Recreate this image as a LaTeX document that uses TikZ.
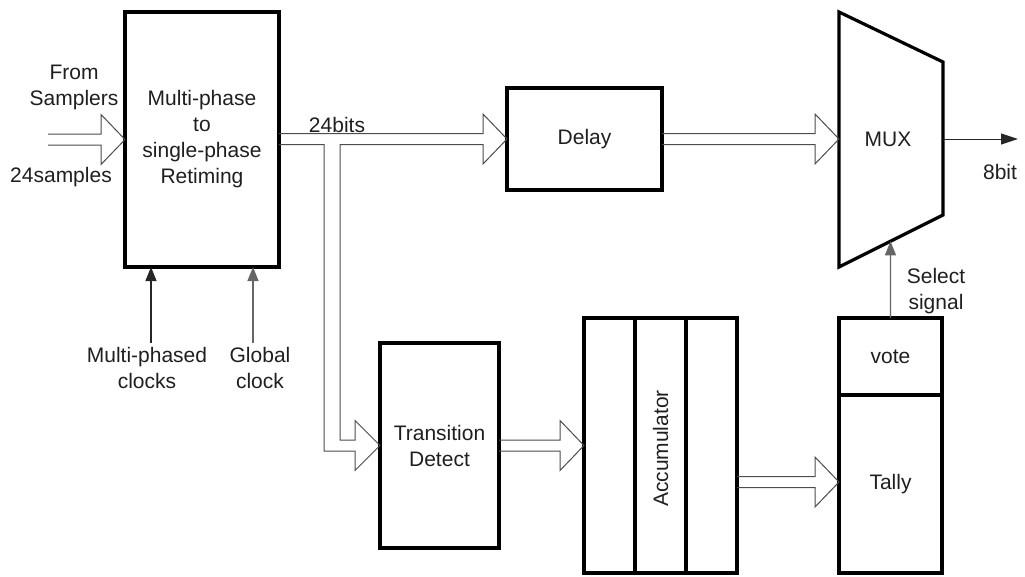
\documentclass[tikz,border=0pt]{standalone}
\usepackage{fontspec}
\setmainfont{Liberation Sans}
\usetikzlibrary{arrows.meta,calc}

\tikzset{
  box/.style={draw=black, line width=3.2pt, fill=none, inner sep=0pt, outer sep=0pt,
              align=center, text=black!88},
  lbl/.style={inner sep=0pt, align=center, text=black!88},
  bus/.style={draw=black!70, line width=1pt, line join=miter},
  sig/.style={draw=black!85, line width=1.3pt, -{Triangle[length=14pt,width=11pt]}},
  sel/.style={draw=black!60, line width=1.2pt, -{Triangle[length=14pt,width=11pt]}},
}

% hollow bus arrow from a start point to a tip point (lines follow the tip's height)
\newcommand\busarrow[2]{%
  \draw[bus] let \p1=#1, \p2=#2 in
    (\x1,{\y2+5.5pt}) -- ({\x2-24pt},{\y2+5.5pt}) -- ({\x2-24pt},{\y2+25pt})
    -- (\p2) -- ({\x2-24pt},{\y2-25pt}) -- ({\x2-24pt},{\y2-5.5pt}) -- (\x1,{\y2-5.5pt});}

\begin{document}
\begin{tikzpicture}[x=1pt, y=-1pt, font=\fontsize{21}{26}\selectfont]
\useasboundingbox (0,0) rectangle (1025,576);

% ---- blocks ----
\node[box, minimum width=154pt, minimum height=255pt] (retime) at (202,139.5)
  {Multi-phase\\to\\single-phase\\Retiming};
\node[box, minimum width=155pt, minimum height=102pt] (delay) at (584.5,139) {Delay};
\node[box, minimum width=119pt, minimum height=205pt] (td) at (439.5,445.5)
  {Transition\\Detect};
\node[box, minimum width=153pt, minimum height=255pt] (acc) at (660.5,445.5) {};
\node[box, minimum width=103pt, minimum height=77pt] (vote) at (890.5,356.5) {vote};
\node[box, minimum width=103pt, minimum height=178pt] (tally) at (890.5,484) {Tally};

% accumulator columns
\draw[line width=3.2pt] ($(acc.north west)!1/3!(acc.north east)$) -- ($(acc.south west)!1/3!(acc.south east)$);
\draw[line width=3.2pt] ($(acc.north west)!2/3!(acc.north east)$) -- ($(acc.south west)!2/3!(acc.south east)$);
\node[lbl, rotate=90] (acclbl) at ($(acc.center)+(0,3)$) {Accumulator};

% multiplexer
\coordinate (mtl) at (839,12);
\coordinate (mtr) at (943,62);
\coordinate (mbr) at (943,215);
\coordinate (mbl) at (839,267);
\draw[line width=3.2pt, line join=miter] (mtl) -- (mtr) -- (mbr) -- (mbl) -- cycle;
\node[lbl] (mux) at (888,139) {MUX};
\coordinate (muxin) at (839,139);
\coordinate (muxout) at (943,139);
\coordinate (muxsel) at ($(mbl)!0.495!(mbr)$);

% ---- buses ----
\coordinate (in) at (48,139);
\busarrow{(in)}{(retime.west)}
\node[lbl] (from) at (74,87) {From\\Samplers};
\node[lbl] (nsamp) at (61,177) {24samples};

% retimed bus to the delay, with a branch down to the transition detector
\coordinate (tap) at (332,139);
\draw[bus] let \p1=(retime.east), \p2=(delay.west), \p3=(td.west), \p4=(tap) in
  (\x1,{\y2+5.5pt}) -- ({\x2-24pt},{\y2+5.5pt}) -- ({\x2-24pt},{\y2+25pt})
  -- (\p2) -- ({\x2-24pt},{\y2-25pt}) -- ({\x2-24pt},{\y2-5.5pt})
  -- ({\x4+8pt},{\y2-5.5pt}) -- ({\x4+8pt},{\y3+5.5pt})
  -- ({\x3-25pt},{\y3+5.5pt}) -- ({\x3-25pt},{\y3+25pt}) -- (\p3)
  -- ({\x3-25pt},{\y3-25pt}) -- ({\x3-25pt},{\y3-5.5pt})
  -- ({\x4-8pt},{\y3-5.5pt}) -- ({\x4-8pt},{\y2-5.5pt}) -- (\x1,{\y2-5.5pt});
\node[lbl] (bits) at (337,125) {24bits};

\busarrow{(delay.east)}{(muxin)}
\busarrow{(td.east)}{(acc.west)}
\busarrow{(acc.east)}{($(tally.west)+(0,-2)$)}

% ---- output and select ----
\coordinate (out) at (1018,139);
\draw[draw=black!85, line width=1pt, -{Triangle[length=17pt,width=11pt]}] (muxout) -- (out);
\node[lbl] (outlbl) at (1000,172) {8bit};

\draw[sel] (vote.north) -- (muxsel);
\node[lbl] (sellbl) at (936,291) {Select\\signal};

% ---- clocks ----
\coordinate (clk1) at (151,343);
\coordinate (clk2) at (253,343);
\draw[sig] (clk1) -- (clk1 |- retime.south);
\draw[sel] (clk2) -- (clk2 |- retime.south);
\node[lbl] (mpclk) at (147,368) {Multi-phased\\clocks};
\node[lbl] (gclk) at (260,368) {Global\\clock};
\end{tikzpicture}
\end{document}
